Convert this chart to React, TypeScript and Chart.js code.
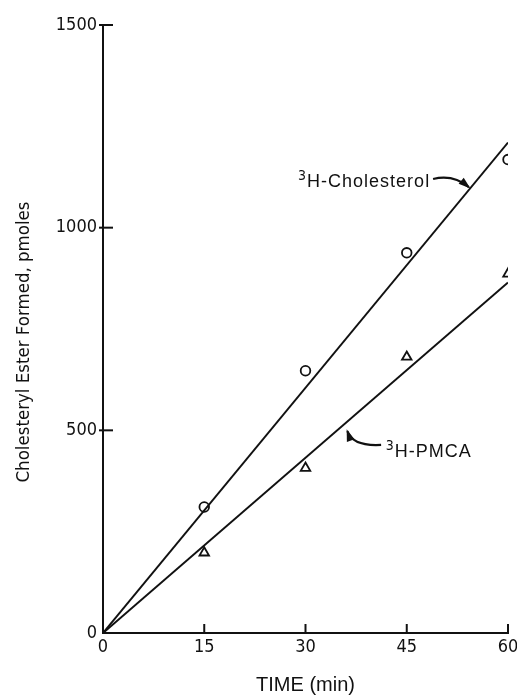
import React, { useEffect, useRef } from "react";
import { Chart, registerables } from "chart.js";

Chart.register(...registerables);

// ---- data ----
const times = [15, 30, 45, 60];
const cholesterol = [311, 647, 938, 1168];
const pmca = [198, 407, 681, 886];
const fitTimes = [0, 60];
const cholesterolFit = [0, 1210];
const pmcaFit = [0, 865];
const xTickValues = [0, 15, 30, 45, 60];
const yTickValues = [0, 500, 1000, 1500];

const NARROW = "'Liberation Sans Narrow', 'DejaVu Sans Condensed', 'Liberation Sans', sans-serif";
const SANS = "'Liberation Sans', 'DejaVu Sans', sans-serif";
const INK = "#111";

const pts = (xs: number[], ys: number[]) => xs.map((x, i) => ({ x, y: ys[i] }));

const decorPlugin = {
  id: "decor",
  afterDraw(chart: any) {
    const ctx: CanvasRenderingContext2D = chart.ctx;
    const xs = chart.scales.x;
    const ys = chart.scales.y;
    const px = (v: number) => xs.getPixelForValue(v);
    const py = (v: number) => ys.getPixelForValue(v);
    const left = chart.chartArea.left;
    const bottom = chart.chartArea.bottom;
    ctx.save();
    ctx.strokeStyle = INK;
    ctx.fillStyle = INK;
    ctx.lineWidth = 2;
    // inward ticks
    yTickValues.forEach((v) => {
      if (v === 0) return;
      ctx.beginPath();
      ctx.moveTo(left - 4, py(v));
      ctx.lineTo(left + 10, py(v));
      ctx.stroke();
    });
    xTickValues.forEach((v) => {
      if (v === 0) return;
      ctx.beginPath();
      ctx.moveTo(px(v), bottom + 1);
      ctx.lineTo(px(v), bottom - 9);
      ctx.stroke();
    });

    // y axis title
    ctx.save();
    ctx.translate(24, (chart.chartArea.top + bottom) / 2 + 13);
    ctx.rotate(-Math.PI / 2);
    ctx.font = `18.5px ${NARROW}`;
    ctx.textAlign = "center";
    ctx.textBaseline = "middle";
    ctx.fillText("Cholesteryl Ester Formed, pmoles", 0, 0);
    ctx.restore();

    // labels with superscript
    const label = (x: number, y: number, main: string) => {
      const bx = px(x);
      const by = py(y);
      ctx.font = `14px ${NARROW}`;
      ctx.textAlign = "left";
      ctx.textBaseline = "alphabetic";
      ctx.fillText("3", bx, by - 7);
      const w = ctx.measureText("3").width;
      ctx.font = `18px ${SANS}`;
      (ctx as any).letterSpacing = "1px";
      ctx.fillText(main, bx + w + 1, by);
      (ctx as any).letterSpacing = "0px";
    };
    label(28.9, 1100, "H-Cholesterol");
    label(41.9, 434, "H-PMCA");

    // curved arrows
    const arrow = (t: number[], c: number[], h: number[]) => {
      const tx = px(t[0]), ty = py(t[1]);
      const cx = px(c[0]), cy = py(c[1]);
      const hx = px(h[0]), hy = py(h[1]);
      ctx.lineWidth = 2.2;
      ctx.beginPath();
      ctx.moveTo(tx, ty);
      ctx.quadraticCurveTo(cx, cy, hx, hy);
      ctx.stroke();
      const ang = Math.atan2(hy - cy, hx - cx);
      const L = 10, W = 4;
      ctx.beginPath();
      ctx.moveTo(hx + Math.cos(ang) * 2, hy + Math.sin(ang) * 2);
      ctx.lineTo(hx - Math.cos(ang) * L - Math.sin(ang) * W, hy - Math.sin(ang) * L + Math.cos(ang) * W);
      ctx.lineTo(hx - Math.cos(ang) * L + Math.sin(ang) * W, hy - Math.sin(ang) * L - Math.cos(ang) * W);
      ctx.closePath();
      ctx.fill();
    };
    arrow([48.9, 1120], [51.9, 1132], [54.2, 1100]);
    arrow([41.2, 464], [37.0, 460], [36.2, 498]);
    ctx.restore();
  },
};

export default function App() {
  const ref = useRef<HTMLCanvasElement | null>(null);
  useEffect(() => {
    document.body.style.margin = "0";
    if (!ref.current) return;
    const chart = new Chart(ref.current, {
      type: "scatter",
      data: {
        datasets: [
          {
            label: "3H-Cholesterol",
            data: pts(times, cholesterol),
            pointStyle: "circle",
            pointRadius: 4.8,
            borderColor: INK,
            backgroundColor: "rgba(0,0,0,0)",
            borderWidth: 1.8,
            showLine: false,
            order: 0,
          },
          {
            label: "3H-PMCA",
            data: pts(times, pmca),
            pointStyle: "triangle",
            pointRadius: 5.5,
            borderColor: INK,
            backgroundColor: "rgba(0,0,0,0)",
            borderWidth: 1.8,
            showLine: false,
            order: 0,
          },
          {
            label: "Cholesterol fit",
            data: pts(fitTimes, cholesterolFit),
            showLine: true,
            pointRadius: 0,
            borderColor: INK,
            borderWidth: 2,
            order: 1,
          },
          {
            label: "PMCA fit",
            data: pts(fitTimes, pmcaFit),
            showLine: true,
            pointRadius: 0,
            borderColor: INK,
            borderWidth: 2,
            order: 1,
          },
        ],
      },
      options: {
        animation: false,
        responsive: true,
        maintainAspectRatio: false,
        layout: { padding: { left: 0, right: 9, top: 25, bottom: 0 } },
        plugins: { legend: { display: false }, tooltip: { enabled: false } },
        scales: {
          x: {
            type: "linear",
            min: 0,
            max: 60,
            afterBuildTicks: (s: any) => {
              s.ticks = xTickValues.map((v) => ({ value: v }));
            },
            afterFit: (s: any) => {
              s.height = 64;
              s.paddingLeft = 0;
              s.paddingRight = 0;
            },
            grid: { display: true, drawOnChartArea: false, drawTicks: false },
            border: { display: true, color: INK, width: 2 },
            ticks: {
              color: INK,
              padding: 4,
              font: { family: NARROW, size: 18 },
              callback: (v: any) => String(v),
            },
            title: {
              display: true,
              text: "TIME (min)",
              color: INK,
              padding: 0,
              font: { family: SANS, size: 20 },
            },
          },
          y: {
            type: "linear",
            min: 0,
            max: 1500,
            afterBuildTicks: (s: any) => {
              s.ticks = yTickValues.map((v) => ({ value: v }));
            },
            afterFit: (s: any) => {
              s.width = 103;
              s.paddingTop = 0;
              s.paddingBottom = 0;
            },
            grid: { display: true, drawOnChartArea: false, drawTicks: false },
            border: { display: true, color: INK, width: 2 },
            ticks: {
              color: INK,
              padding: 6,
              font: { family: NARROW, size: 18 },
              callback: (v: any) => String(v),
            },
          },
        },
      },
      plugins: [decorPlugin],
    });
    return () => chart.destroy();
  }, []);
  return (
    <div style={{ width: 517, height: 697, position: "relative" }}>
      <canvas ref={ref} />
    </div>
  );
}
